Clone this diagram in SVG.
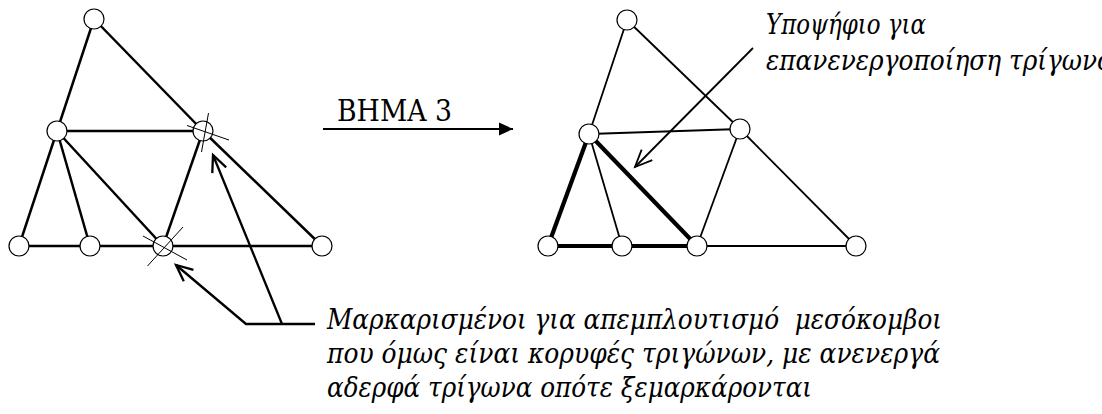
<svg xmlns="http://www.w3.org/2000/svg" width="1102" height="414" viewBox="0 0 1102 414">
  <style>
    .bg { fill: #ffffff; }
    .edgeL { stroke: #000; stroke-width: 2.5; fill: none; }
    .edgeR { stroke: #000; stroke-width: 1.8; fill: none; }
    .edgeB { stroke: #000; stroke-width: 4.2; fill: none; }
    .node { fill: #ffffff; stroke: #000; stroke-width: 1.2; }
    .mark { stroke: #000; stroke-width: 1; fill: none; }
    .ptr { stroke: #000; stroke-width: 2.3; fill: none; }
    .ptrR { stroke: #000; stroke-width: 1.8; fill: none; }
    .label { font-family: 'DejaVu Serif', 'Liberation Serif', serif; font-size: 28px; font-style: italic; white-space: pre; fill: #000; }
    .step { font-family: 'DejaVu Serif', 'Liberation Serif', serif; font-size: 29px; fill: #000; }
  </style>
  <defs>
    <marker id="open" markerUnits="userSpaceOnUse" markerWidth="24" markerHeight="20" viewBox="-20 -10 24 20" refX="0" refY="0" orient="auto">
      <path d="M -16.5 -7.5 L 0 0 L -16.5 7.5" fill="none" stroke="#000" stroke-width="2.3"/>
    </marker>
    <marker id="openR" markerUnits="userSpaceOnUse" markerWidth="24" markerHeight="20" viewBox="-20 -10 24 20" refX="0" refY="0" orient="auto">
      <path d="M -17 -7.5 L 0 0 L -17 7.5" fill="none" stroke="#000" stroke-width="1.8"/>
    </marker>
    <marker id="solid" markerUnits="userSpaceOnUse" markerWidth="16" markerHeight="16" viewBox="-15 -8 16 16" refX="0" refY="0" orient="auto">
      <path d="M -14 -6.5 L 0 0 L -14 6.5 Z" fill="#000"/>
    </marker>
  </defs>

  <rect class="bg" x="0" y="0" width="1102" height="414"/>

  <!-- left mesh: edges -->
  <g id="connectors-left">
    <line class="edgeL" x1="94" y1="19" x2="57" y2="131"/>
    <line class="edgeL" x1="94" y1="19" x2="203" y2="131"/>
    <line class="edgeL" x1="203" y1="131" x2="322" y2="246"/>
    <line class="edgeL" x1="57" y1="131" x2="203" y2="131"/>
    <line class="edgeL" x1="57" y1="131" x2="19" y2="246"/>
    <line class="edgeL" x1="57" y1="131" x2="90" y2="246"/>
    <line class="edgeL" x1="57" y1="131" x2="163" y2="246"/>
    <line class="edgeL" x1="203" y1="131" x2="163" y2="246"/>
    <line class="edgeL" x1="19" y1="246" x2="322" y2="246"/>
  </g>

  <!-- left mesh: nodes -->
  <g id="L-top"><circle class="node" cx="94" cy="19" r="10"/></g>
  <g id="L-midleft"><circle class="node" cx="57" cy="131" r="10"/></g>
  <g id="L-midright">
    <circle class="node" cx="203" cy="131" r="10"/>
    <line class="mark" x1="187" y1="125.5" x2="229" y2="140"/>
    <line class="mark" x1="208.5" y1="113" x2="201.5" y2="152"/>
  </g>
  <g id="L-b0"><circle class="node" cx="19" cy="246" r="10"/></g>
  <g id="L-b1"><circle class="node" cx="90" cy="246" r="10"/></g>
  <g id="L-b2">
    <circle class="node" cx="163" cy="246" r="10"/>
    <line class="mark" x1="143" y1="236" x2="187" y2="260"/>
    <line class="mark" x1="183" y1="227" x2="147.5" y2="266"/>
  </g>
  <g id="L-b3"><circle class="node" cx="322" cy="246" r="10"/></g>

  <!-- step arrow -->
  <g id="step">
    <line stroke="#000" stroke-width="1.8" x1="323" y1="129" x2="513" y2="129" marker-end="url(#solid)"/>
    <text class="step" x="337" y="121" textLength="115" lengthAdjust="spacingAndGlyphs">BHMA 3</text>
  </g>

  <!-- right mesh: edges -->
  <g id="connectors-right">
    <line class="edgeR" x1="627" y1="20" x2="589" y2="134"/>
    <line class="edgeR" x1="627" y1="20" x2="740" y2="129"/>
    <line class="edgeR" x1="740" y1="129" x2="856" y2="246"/>
    <line class="edgeR" x1="589" y1="134" x2="740" y2="129"/>
    <line class="edgeB" x1="589" y1="134" x2="548" y2="246"/>
    <line class="edgeR" x1="589" y1="134" x2="622" y2="246"/>
    <line class="edgeB" x1="589" y1="134" x2="697" y2="246"/>
    <line class="edgeR" x1="740" y1="129" x2="697" y2="246"/>
    <line class="edgeB" x1="548" y1="246" x2="697" y2="246"/>
    <line class="edgeR" x1="697" y1="246" x2="856" y2="246"/>
  </g>

  <!-- right mesh: nodes -->
  <g id="R-top"><circle class="node" cx="627" cy="20" r="10"/></g>
  <g id="R-midleft"><circle class="node" cx="589" cy="134" r="10"/></g>
  <g id="R-midright"><circle class="node" cx="740" cy="129" r="10"/></g>
  <g id="R-b0"><circle class="node" cx="548" cy="246" r="10"/></g>
  <g id="R-b1"><circle class="node" cx="622" cy="246" r="10"/></g>
  <g id="R-b2"><circle class="node" cx="697" cy="246" r="10"/></g>
  <g id="R-b3"><circle class="node" cx="856" cy="246" r="10"/></g>

  <!-- callout: candidate triangle -->
  <g id="candidate-note">
    <line class="ptrR" x1="753" y1="48" x2="635" y2="167" marker-end="url(#openR)"/>
    <text class="label" x="766" y="34" textLength="160" lengthAdjust="spacingAndGlyphs">Υποψήφιο για</text>
    <text class="label" x="766" y="70" textLength="346" lengthAdjust="spacingAndGlyphs">επανενεργοποίηση τρίγωνο</text>
  </g>

  <!-- callout: marked nodes -->
  <g id="marked-note">
    <polyline class="ptr" points="315,324 246,324 176,265" marker-end="url(#open)"/>
    <line class="ptr" x1="282" y1="324" x2="213" y2="155" marker-end="url(#open)"/>
    <text class="label" x="327" y="329" textLength="615" lengthAdjust="spacingAndGlyphs">Μαρκαρισμένοι για απεμπλουτισμό  μεσόκομβοι</text>
    <text class="label" x="327" y="363" textLength="613" lengthAdjust="spacingAndGlyphs">που όμως είναι κορυφές τριγώνων, με ανενεργά</text>
    <text class="label" x="327" y="397" textLength="485" lengthAdjust="spacingAndGlyphs">αδερφά τρίγωνα οπότε ξεμαρκάρονται</text>
  </g>
</svg>
